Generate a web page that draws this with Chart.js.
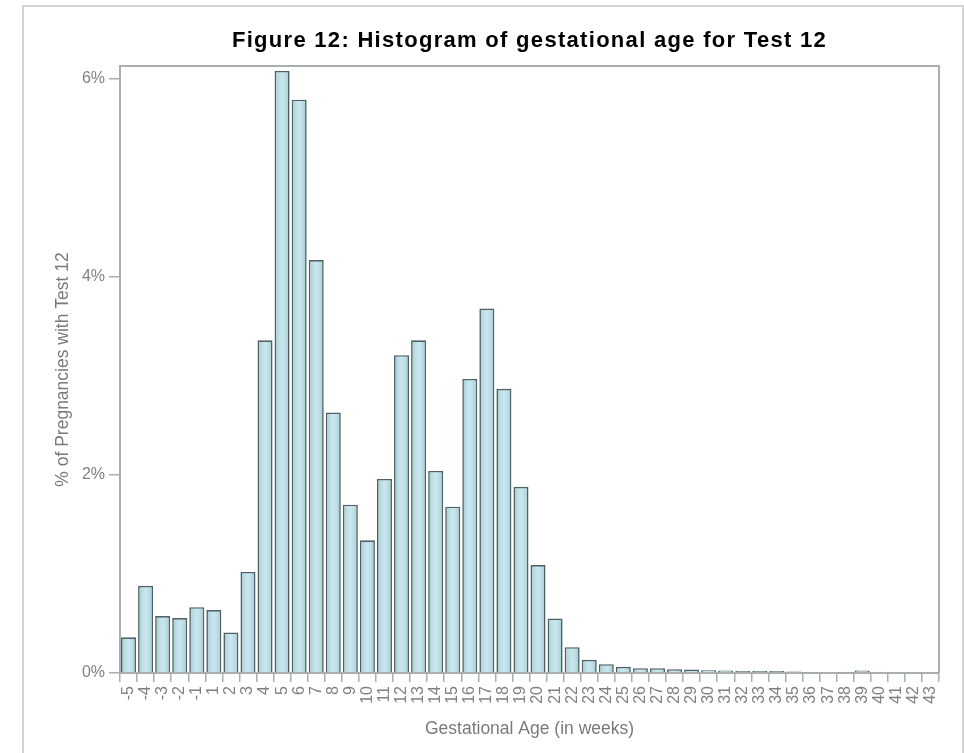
<!DOCTYPE html>
<html>
<head>
<meta charset="utf-8">
<script src="https://cdn.jsdelivr.net/npm/chart.js@4/dist/chart.umd.min.js"></script>
<style>
  body { margin: 0; background: #fff; }
  #frame { position: absolute; left: 22px; top: 5px; width: 938px; height: 760px; border: 2px solid #d4d4d4; }
  #wrap { position: absolute; left: 0; top: 0; width: 964px; height: 753px; }
</style>
</head>
<body>
<div id="frame"></div>
<div id="wrap"><canvas id="myChart" width="964" height="753"></canvas></div>
<script>
// gestational age in weeks (no week 0 in the source)
var weeks = ["-5", "-4", "-3", "-2", "-1", "1", "2", "3", "4", "5", "6", "7", "8", "9", "10",
    "11", "12", "13", "14", "15", "16", "17", "18", "19", "20", "21", "22", "23", "24", "25",
    "26", "27", "28", "29", "30", "31", "32", "33", "34", "35", "36", "37", "38", "39", "40",
    "41", "42", "43"];
// % of pregnancies with Test 12
var pctPregnancies = [0.36, 0.88, 0.575, 0.555, 0.665, 0.635, 0.41, 1.02, 3.36, 6.08, 5.79, 4.17,
    2.63, 1.70, 1.34, 1.96, 3.21, 3.36, 2.04, 1.68, 2.97, 3.68, 2.87, 1.88, 1.09,
    0.55, 0.26, 0.133, 0.089, 0.062, 0.048, 0.048, 0.038, 0.035, 0.028, 0.025, 0.02,
    0.02, 0.02, 0.015, 0.01, 0.004, 0.002, 0.025, 0, 0, 0, 0];
var yTicks = [0, 2, 4, 6];

var chartTitle = "Figure 12: Histogram of gestational age for Test 12";
var fontFam = '"Liberation Sans", Arial, sans-serif';

// shaded fill across each bar (darker near the edges)
// options objects are shared between bars, so each bar gets its own copy
var barShade = {
    id: 'barShade',
    beforeDatasetsDraw: function (chart) {
        var ctx = chart.ctx;
        chart.getDatasetMeta(0).data.forEach(function (bar) {
            var x0 = bar.x - bar.width / 2;
            var x1 = bar.x + bar.width / 2;
            if (!isFinite(x0) || !isFinite(x1)) return;
            var g = ctx.createLinearGradient(x0, 0, x1, 0);
            g.addColorStop(0, '#a3c6cf');
            g.addColorStop(0.3, '#bfe0e8');
            g.addColorStop(0.5, '#c8e7ee');
            g.addColorStop(0.7, '#bfe0e8');
            g.addColorStop(1, '#a3c6cf');
            var opts = Object.assign({}, bar.options);
            opts.backgroundColor = g;
            bar.options = opts;
        });
    }
};

// title centred over the plot area, plus the box round the plot
var frameAndTitle = {
    id: 'frameAndTitle',
    afterDraw: function (chart) {
        var ctx = chart.ctx;
        var a = chart.chartArea;
        ctx.save();
        ctx.strokeStyle = '#a9aeb1';
        ctx.lineWidth = 2;
        ctx.beginPath();
        ctx.moveTo(a.left, a.top);
        ctx.lineTo(a.right, a.top);
        ctx.lineTo(a.right, a.bottom);
        ctx.stroke();
        ctx.fillStyle = '#000';
        ctx.font = 'bold 22px ' + fontFam;
        ctx.letterSpacing = '1.3px';
        ctx.textAlign = 'center';
        ctx.textBaseline = 'middle';
        ctx.fillText(chartTitle, (a.left + a.right) / 2, 41);
        ctx.restore();
    }
};

var ctx = document.getElementById("myChart");
var histChart = new Chart(ctx, {
    type: 'bar',
    data: {
        labels: weeks,
        datasets: [{
            data: pctPregnancies,
            backgroundColor: '#bcdfe7',
            borderColor: '#4f6167',
            borderWidth: 1.6,
            barPercentage: 0.88,
            categoryPercentage: 1.0
        }]
    },
    options: {
        responsive: false,
        animation: false,
        layout: { padding: { left: 50, right: 25, top: 66, bottom: 13 } },
        plugins: {
            legend: { display: false },
            title: { display: false },
            tooltip: { enabled: false }
        },
        scales: {
            x: {
                afterFit: function (scale) { scale.height = 67; },
                grid: { display: true, drawOnChartArea: false, tickLength: 9, color: '#a9aeb1', lineWidth: 1.5 },
                border: { display: true, color: '#a9aeb1', width: 2 },
                ticks: {
                    maxRotation: 90, minRotation: 90, autoSkip: false, padding: 4,
                    color: '#808080',
                    font: { family: fontFam, size: 16 }
                },
                title: {
                    display: true,
                    text: 'Gestational Age (in weeks)',
                    color: '#7a7a7a',
                    padding: { top: 4, bottom: 0 },
                    font: { family: fontFam, size: 17.5 }
                }
            },
            y: {
                min: 0,
                max: 6.13,
                afterFit: function (scale) { scale.width = 70; },
                afterBuildTicks: function (scale) {
                    scale.ticks = yTicks.map(function (v) { return { value: v }; });
                },
                grid: { display: true, drawOnChartArea: false, tickLength: 11, color: '#a9aeb1', lineWidth: 1.5 },
                border: { display: true, color: '#a9aeb1', width: 2 },
                ticks: {
                    padding: 4,
                    color: '#808080',
                    font: { family: fontFam, size: 16 },
                    callback: function (v) { return v + '%'; }
                },
                title: {
                    display: true,
                    text: '% of Pregnancies with Test 12',
                    color: '#7a7a7a',
                    padding: { top: 3, bottom: 0 },
                    font: { family: fontFam, size: 17.5 }
                }
            }
        }
    },
    plugins: [barShade, frameAndTitle]
});
</script>
</body>
</html>
